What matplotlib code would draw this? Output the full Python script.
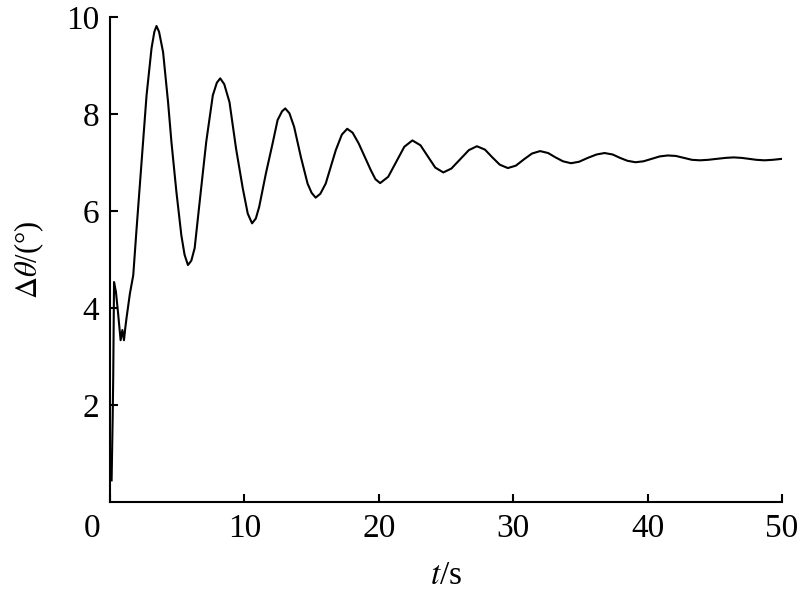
import matplotlib
matplotlib.use("Agg")
import matplotlib.pyplot as plt
from matplotlib.transforms import ScaledTranslation

plt.rcParams['font.family'] = ['Liberation Serif', 'DejaVu Serif']
plt.rcParams['mathtext.fontset'] = 'stix'

# time (s) and angle difference (deg)
t = [0.12, 0.20, 0.24, 0.30, 0.36, 0.44, 0.60, 0.79, 0.92, 1.04, 1.14, 1.24,
     1.48, 1.73, 1.98, 2.35, 2.72, 3.09, 3.30, 3.46, 3.65, 3.95, 4.32, 4.57,
     4.94, 5.31, 5.55, 5.80, 6.05, 6.30, 6.67, 7.16, 7.65, 7.95, 8.20, 8.50,
     8.89, 9.38, 9.88, 10.25, 10.57, 10.85, 11.10, 11.60, 12.10, 12.47, 12.80,
     13.04, 13.35, 13.70, 14.20, 14.70, 15.00, 15.30, 15.65, 16.05, 16.80,
     17.25, 17.65, 18.05, 18.50, 19.40, 19.75, 20.10, 20.70, 21.30, 21.90,
     22.50, 23.10, 23.65, 24.20, 24.80, 25.40, 26.05, 26.70, 27.30, 27.90,
     28.45, 29.00, 29.60, 30.20, 30.80, 31.40, 32.00, 32.60, 33.15, 33.70,
     34.30, 34.90, 35.55, 36.20, 36.80, 37.40, 37.95, 38.50, 39.10, 39.70,
     40.30, 40.90, 41.50, 42.10, 42.70, 43.30, 43.90, 44.50, 45.15, 45.80,
     46.40, 47.00, 47.55, 48.10, 48.70, 49.30, 50.00]
dtheta = [0.45, 1.76, 2.58, 4.54, 4.45, 4.34, 3.90, 3.34, 3.55, 3.34, 3.60, 3.82,
          4.30, 4.68, 5.65, 7.02, 8.39, 9.36, 9.70, 9.82, 9.70, 9.28, 8.25, 7.43,
          6.40, 5.50, 5.10, 4.89, 4.98, 5.24, 6.19, 7.43, 8.39, 8.65, 8.74, 8.62,
          8.25, 7.29, 6.47, 5.95, 5.75, 5.85, 6.09, 6.78, 7.40, 7.88, 8.06,
          8.12, 8.02, 7.74, 7.12, 6.57, 6.38, 6.28, 6.36, 6.57, 7.26,
          7.58, 7.70, 7.62, 7.40, 6.85, 6.66, 6.58, 6.71, 7.02, 7.33,
          7.46, 7.36, 7.13, 6.90, 6.80, 6.88, 7.07, 7.26, 7.34, 7.27,
          7.11, 6.96, 6.89, 6.94, 7.07, 7.19, 7.24, 7.20, 7.11, 7.03,
          6.99, 7.02, 7.10, 7.17, 7.20, 7.17, 7.10, 7.04, 7.01, 7.03,
          7.08, 7.13, 7.15, 7.14, 7.10, 7.06, 7.05, 7.06, 7.08, 7.10,
          7.11, 7.10, 7.08, 7.06, 7.05, 7.06, 7.08]

xticks = [0, 10, 20, 30, 40, 50]
yticks = [2, 4, 6, 8, 10]

fig = plt.figure(figsize=(8, 5.95), dpi=100)
ax = fig.add_axes([0.1375, 0.156, 0.84, 0.815])

ax.plot(t, dtheta, color='black', lw=1.5)

ax.set_xlim(0, 50)
ax.set_ylim(0, 10)
ax.set_xticks(xticks)
ax.set_yticks(yticks)

for s in ['top', 'right']:
    ax.spines[s].set_visible(False)
for s in ['left', 'bottom']:
    ax.spines[s].set_linewidth(1.5)

ax.tick_params(direction='in', length=6, width=1.5, labelsize=24, pad=8)

# the corner "0" sits left of the axis origin
lbl = ax.get_xticklabels()[0]
lbl.set_transform(lbl.get_transform() + ScaledTranslation(-0.18, 0, fig.dpi_scale_trans))

ax.set_xlabel(r'$t$/s', fontsize=24, labelpad=12)
ax.set_ylabel(r'$\Delta\theta$/(°)', fontsize=22, labelpad=14)

fig.savefig('out.png', dpi=100)
